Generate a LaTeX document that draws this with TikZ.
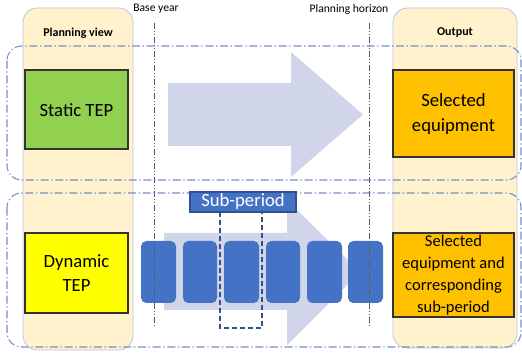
\documentclass[tikz,border=0pt]{standalone}
\usepackage{fontspec}
\setmainfont{Carlito}

\definecolor{viewfill}{RGB}{255,242,204}
\definecolor{viewedge}{RGB}{185,198,220}
\definecolor{bandedge}{RGB}{118,142,196}
\definecolor{flowfill}{RGB}{208,213,234}
\definecolor{periodblue}{RGB}{68,114,196}
\definecolor{periodedge}{RGB}{47,82,143}
\definecolor{tepgreen}{RGB}{146,208,80}
\definecolor{tepyellow}{RGB}{255,255,0}
\definecolor{outorange}{RGB}{255,192,0}

\tikzset{
  viewcol/.style={draw=viewedge, fill=viewfill, line width=0.6pt, rounded corners=11pt},
  viewband/.style={draw=bandedge, line width=0.8pt, dash pattern=on 6pt off 2pt on 1pt off 2pt, rounded corners=11pt},
  yearline/.style={draw=black!65, line width=0.7pt, dash pattern=on 4.5pt off 1.5pt on 0.75pt off 1.5pt on 0.75pt off 1.5pt},
  tepbox/.style={draw=black!80, line width=0.9pt},
  period/.style={fill=periodblue, rounded corners=4pt},
  headtxt/.style={font=\bfseries\fontsize{9}{11}\selectfont},
  yeartxt/.style={font=\fontsize{8.7}{10}\selectfont},
  boxtxt/.style={align=center, font=\fontsize{14}{18.5}\selectfont},
}

\begin{document}
\begin{tikzpicture}[x=0.75pt,y=0.75pt,yscale=-1,xscale=1]
\useasboundingbox (0,0) rectangle (522,356);

%Shape: Rounded Rect [planning view column]
\draw [viewcol] (23,8) rectangle (133,350);
%Shape: Rounded Rect [output column]
\draw [viewcol] (393,8) rectangle (517,348);

%Shape: Rounded Rect [static band]
\draw [viewband] (7,46) rectangle (521,180);
%Shape: Rounded Rect [dynamic band]
\draw [viewband] (7,193) rectangle (521,347);

%Right Arrow [static]
\fill [flowfill] (168,83) -- (291,83) -- (291,52) -- (363,114.5) -- (291,177) -- (291,146) -- (168,146) -- cycle;
%Right Arrow [dynamic]
\fill [flowfill] (164,233) -- (287,233) -- (287,200) -- (360,272) -- (287,345) -- (287,310) -- (164,310) -- cycle;

%Rounded Rect [sub-periods]
\fill [period] (141,241) rectangle (176,303);
\fill [period] (183,241) rectangle (217,303);
\fill [period] (224,241) rectangle (259,303);
\fill [period] (266,241) rectangle (300,303);
\fill [period] (307,241) rectangle (342,303);
\fill [period] (348,241) rectangle (383,303);

%Shape: Rectangle [sub-period window]
\draw [draw=periodedge, line width=1.1pt, dash pattern=on 4pt off 2pt] (220,212) rectangle (262,328);
%Shape: Rectangle [sub-period tag]
\draw [fill=periodblue, draw=periodedge, line width=0.8pt] (190,192) rectangle (296,212);

%Straight Lines [base year, planning horizon]
\draw [yearline] (154,23) -- (154,328);
\draw [yearline] (369,23) -- (369,328);

%Flowchart: Process
\draw [tepbox, fill=tepgreen] (25,70) rectangle (128,149);
%Flowchart: Process
\draw [tepbox, fill=tepyellow] (25,233) rectangle (128,313);
%Flowchart: Process
\draw [tepbox, fill=outorange] (393,70) rectangle (514,157);
%Flowchart: Process
\draw [tepbox, fill=outorange] (393,233) rectangle (514,317);

% Text Node
\draw (78,33) node (viewhead) [headtxt] {Planning view};
% Text Node
\draw (455,33) node (outhead) [headtxt] {Output};
% Text Node
\draw (156,9) node (baseyear) [yeartxt] {Base year};
% Text Node
\draw (349,9) node (horizon) [yeartxt] {Planning horizon};
% Text Node
\draw (243,202) node (subtag) [text=white, font=\fontsize{14}{16}\selectfont] {Sub-period};
% Text Node
\draw (76.5,110) node (statictep) [boxtxt] {Static TEP};
% Text Node
\draw (76.5,273) node (dynamictep) [boxtxt] {Dynamic\\TEP};
% Text Node
\draw (453.5,114) node (selected) [boxtxt] {Selected\\equipment};
% Text Node
\draw (453.5,275) node (selectedsub) [boxtxt, font=\fontsize{12.4}{16.3}\selectfont] {Selected\\equipment and\\corresponding\\sub-period};

\end{tikzpicture}
\end{document}
